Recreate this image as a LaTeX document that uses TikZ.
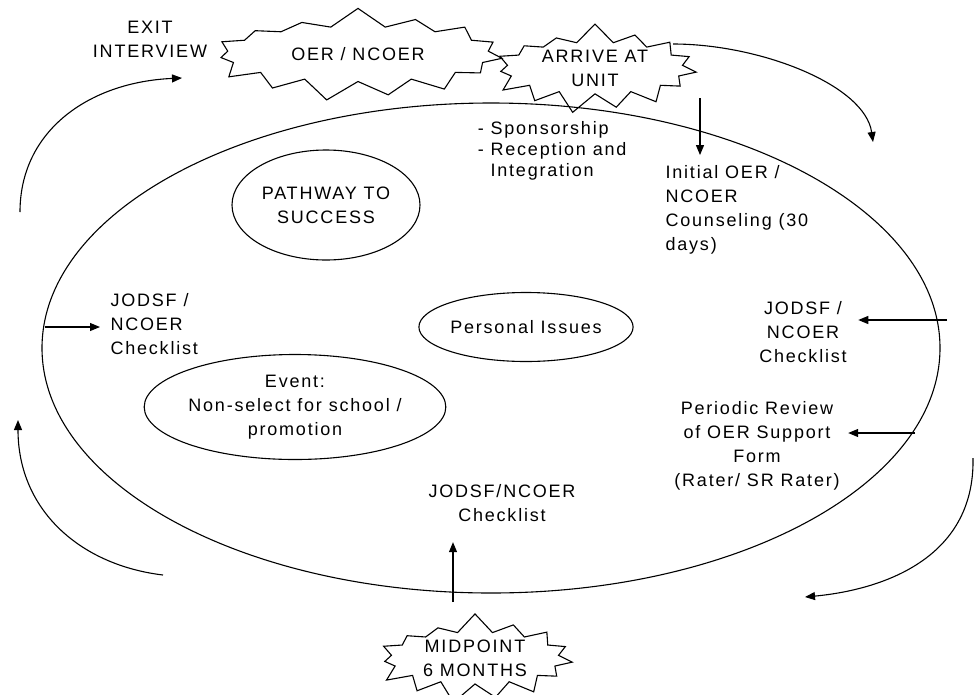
\documentclass[tikz,border=0pt]{standalone}
\usepackage{fontspec}
\setmainfont{Liberation Sans}[LetterSpace=10]
\usetikzlibrary{shapes.geometric,shapes.symbols,arrows.meta}
\tikzset{
	lbl/.style={inner sep=0pt, font=\fontsize{18}{24}\selectfont},
	burst/.style={lbl, draw, starburst, starburst points=15, starburst point height=20pt, random starburst=7, align=center},
	bubble/.style={lbl, draw, ellipse, align=center},
	arw/.style={-{Triangle[length=10pt,width=8pt]}}
}

\begin{document}
\begin{tikzpicture}[x=1pt, y=-1pt, line width=1.1pt]
		%%%%% START %%%%%
		\useasboundingbox (0,0) rectangle (974,694);
		
		\draw (491,348) ellipse (449 and 245);
		
		\node[burst, minimum width=302pt, minimum height=95pt] (oer) at (358,54) {OER / NCOER};
		\node[burst, minimum width=216pt, minimum height=85pt] (arrive) at (595,68) {ARRIVE AT\\UNIT};
		\node[burst, minimum width=208pt, minimum height=86pt] (midpt) at (475,658) {MIDPOINT\\6 MONTHS};
		
		\node[bubble, minimum width=188pt, minimum height=110pt] (pathway) at (326,205) {PATHWAY TO\\SUCCESS};
		\node[bubble, minimum width=182pt, minimum height=69pt] (issues) at (526,327) {Personal Issues};
		\node[bubble, minimum width=273pt, minimum height=105pt] (event) at (295,407) {Event:\\Non-select for school /\\promotion};
		
		\node[lbl, align=center] (exit) at (150,39) {EXIT\\INTERVIEW};
		\node[lbl, align=left, anchor=west, font=\fontsize{18}{21}\selectfont] (recep) at (490,151) {\llap{- }Sponsorship\\\llap{- }Reception and\\Integration};
		\node[lbl, align=left, anchor=west] (initial) at (665,210) {Initial OER /\\NCOER\\Counseling (30\\days)};
		\node[lbl, align=left, anchor=west] (jodsfL) at (110,324) {JODSF /\\NCOER\\Checklist};
		\node[lbl, align=center] (jodsfR) at (803,332) {JODSF /\\NCOER\\Checklist};
		\node[lbl, align=center] (review) at (757,446) {Periodic Review\\of OER Support\\Form\\(Rater/ SR Rater)};
		\node[lbl, align=center] (jodsfB) at (502,503) {JODSF/NCOER\\Checklist};
		
		\coordinate (exitFrom) at (20,212);
		\coordinate (exitTo) at (182,78);
		\coordinate (arriveFrom) at (673,44);
		\coordinate (arriveTo) at (873,142);
		\coordinate (reviewFrom) at (973,458);
		\coordinate (reviewTo) at (805,597);
		\coordinate (midFrom) at (163,575);
		\coordinate (midTo) at (18,420);
		
		\draw[arw] (exitFrom) .. controls (20,130) and (90,82) .. (exitTo);
		\draw[arw] (arriveFrom) .. controls (760,44) and (865,85) .. (arriveTo);
		\draw[arw] (reviewFrom) .. controls (975,560) and (880,590) .. (reviewTo);
		\draw[arw] (midFrom) .. controls (80,565) and (18,510) .. (midTo);
		
		\coordinate (initFrom) at (700,98);
		\coordinate (jodsfRFrom) at (947,320);
		\coordinate (reviewArm) at (915,433);
		\coordinate (jodsfBFrom) at (453,602);
		\coordinate (jodsfLFrom) at (45,327);
		
		\draw[arw, shorten >=10pt] (initFrom) -- (initFrom |- initial.north);
		\draw[arw, shorten >=11pt] (jodsfRFrom) -- (jodsfRFrom -| jodsfR.east);
		\draw[arw, shorten >=8pt] (reviewArm) -- (reviewArm -| review.east);
		\draw[arw, shorten >=20pt] (jodsfBFrom) -- (jodsfBFrom |- jodsfB.south);
		\draw[arw, shorten >=10pt] (jodsfLFrom) -- (jodsfLFrom -| jodsfL.west);
		%%%%% END %%%%%
\end{tikzpicture}
\end{document}
